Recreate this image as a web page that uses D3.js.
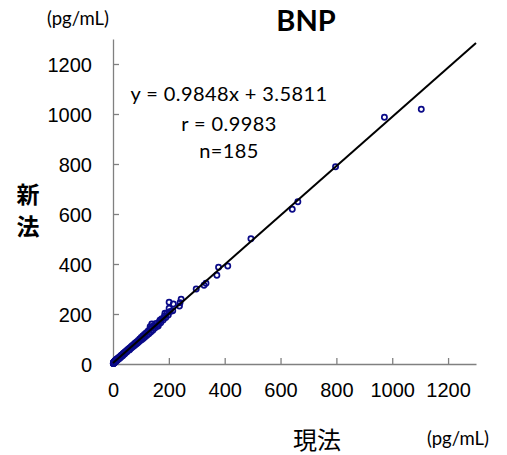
<!DOCTYPE html>
<html>
<head>
<meta charset="utf-8">
<script src="https://cdn.jsdelivr.net/npm/d3@7"></script>
<style>
  body { margin: 0; background: #fff; }
  svg { display: block; }
</style>
</head>
<body>
<script>
// chart values
const title = "BNP";
const xLabel = "現法", yLabel = ["新", "法"], unit = "(pg/mL)";
const ticks = [0, 200, 400, 600, 800, 1000, 1200];
const slope = 0.9848, intercept = 3.5811;
const statLines = ["y = 0.9848x + 3.5811", "r = 0.9983", "n=185"];

// 現法 (x) / 新法 (y)
const xValues = [
  1104, 972, 797, 662, 642, 494, 411, 378, 372, 333, 326, 298, 244, 240, 238, 216, 201, 214, 201, 198, 186, 169, 162, 139, 133,
  1.2, 1.5, 1.8, 2.0, 2.2, 2.5, 2.7, 3.0, 3.1, 3.4, 3.6, 3.9, 4.1, 4.3, 4.6, 4.8, 5.0, 5.3, 5.5, 5.8,
  6.0, 6.2, 6.5, 6.8, 7.0, 7.3, 7.6, 7.9, 8.1, 8.4, 8.7, 9.0, 9.2, 9.5, 9.8, 10.1, 10.4, 10.7, 11.0, 11.3,
  11.7, 12.0, 12.4, 12.9, 13.3, 13.8, 14.2, 14.7, 15.1, 15.6, 16.0, 16.5, 17.1, 17.6, 18.2, 18.8, 19.3, 19.9, 20.5, 21.2,
  21.8, 22.5, 23.1, 23.9, 24.6, 25.4, 26.1, 26.9, 27.8, 28.6, 29.5, 30.3, 31.2, 32.2, 33.1, 34.1, 35.2, 36.2, 37.3, 38.5,
  39.6, 40.8, 42.0, 43.3, 44.6, 45.9, 47.3, 48.7, 50.1, 51.6,
  53.1, 54.7, 56.3, 57.9, 59.6, 61.3, 63.1, 64.9, 66.8, 68.7, 70.6, 72.6, 74.7, 76.8, 78.9, 81.1, 83.4, 85.7, 88.1, 90.5,
  93.0, 95.6, 98.2, 100.9, 103.7, 106.5, 109.4, 112.4, 115.5, 118.6, 121.8, 125.1, 128.5, 131.9, 135.4, 139.0, 142.7, 146.5, 150.3, 154.2,
  158.2, 162.3, 166.5, 170.8, 175.2, 179.7, 184.3, 189.0, 193.8, 205.4,
  1.0, 1.3, 1.6, 2.3, 2.9, 3.3, 4.4, 5.1, 6.7, 7.8, 9.4, 12.6, 15.8, 19.6, 24.3, 29.1, 34.8, 41.5, 49.4, 58.8
];
const yValues = [
  1019, 987, 789, 649, 619, 501, 392, 387, 355, 323, 315, 300, 259, 245, 232, 240, 247, 213, 223, 196, 203, 176, 152, 160, 149,
  3.1, 4.4, 2.9, 5.2, 4.0, 3.6, 6.1, 4.9, 7.2, 5.5, 6.3, 8.0, 5.8, 7.4, 9.1, 6.6, 8.7, 7.9, 10.2, 8.4,
  9.6, 11.3, 8.9, 10.7, 12.4, 9.8, 11.6, 13.0, 10.5, 12.1, 14.2, 11.8, 13.5, 15.0, 12.6, 14.1, 16.3, 13.2, 15.4, 12.9,
  16.8, 14.7, 15.9, 17.6, 15.2, 18.4, 16.9, 19.5, 17.3, 20.2, 18.8, 21.6, 19.4, 22.3, 20.1, 23.5, 21.7, 24.6, 22.8, 25.3,
  23.6, 27.1, 24.9, 28.4, 26.3, 29.7, 27.8, 31.2, 29.6, 33.0, 30.8, 35.1, 32.9, 36.4, 34.5, 38.7, 36.6, 41.0, 38.9, 43.2,
  41.4, 45.3, 43.1, 48.2, 45.9, 50.6, 47.8, 53.4, 51.2, 56.3,
  53.9, 59.1, 57.2, 62.5, 59.8, 65.7, 62.4, 69.3, 65.1, 72.8, 68.9, 76.5, 72.3, 80.9, 75.6, 85.2, 79.8, 89.6, 84.3, 94.7,
  89.1, 99.8, 93.6, 106.1, 98.4, 111.9, 103.5, 118.2, 108.9, 124.7, 114.6, 131.5, 121.3, 139.0, 127.8, 146.2, 135.1, 153.9, 143.6, 161.8,
  151.4, 158.7, 171.2, 165.0, 181.6, 176.3, 191.8, 186.2, 203.9, 210.5,
  1.8, 2.4, 1.9, 2.6, 3.3, 3.8, 4.6, 5.4, 6.9, 8.1, 9.9, 12.3, 15.6, 18.9, 23.4, 28.0, 33.2, 39.8, 47.9, 56.4
];

const width = 507, height = 455;
const svg = d3.select("body").append("svg")
  .attr("width", width)
  .attr("height", height);

const x = d3.scaleLinear().domain([0, 1300]).range([113, 476]);
const y = d3.scaleLinear().domain([0, 1300]).range([364, 39]);

const axisColor = "#808080";
const tickFont = "'Liberation Sans', Arial, sans-serif";
const textFont = "Lato, 'Open Sans', sans-serif";
const cjkFont = "'Noto Sans CJK JP', sans-serif";

// axes
const xAxis = svg.append("g")
  .attr("transform", `translate(0,${y(0)})`)
  .call(d3.axisBottom(x).tickValues(ticks).tickFormat(d3.format("d"))
    .tickSizeInner(-6).tickSizeOuter(0).tickPadding(19));
const yAxis = svg.append("g")
  .attr("transform", `translate(${x(0)},0)`)
  .call(d3.axisLeft(y).tickValues(ticks).tickFormat(d3.format("d"))
    .tickSizeInner(-6).tickSizeOuter(0).tickPadding(21));

[xAxis, yAxis].forEach(g => {
  g.select(".domain").attr("stroke", axisColor).attr("stroke-width", 1.3);
  g.selectAll(".tick line").attr("stroke", axisColor).attr("stroke-width", 1.3);
  g.selectAll(".tick text")
    .attr("fill", "#000")
    .style("font-family", tickFont)
    .style("font-size", "20px");
});
yAxis.selectAll(".tick text").attr("dy", "0.36em");

// points
svg.append("g").selectAll("circle")
  .data(xValues.map((v, i) => [v, yValues[i]]))
  .join("circle")
  .attr("cx", d => x(d[0]))
  .attr("cy", d => y(d[1]))
  .attr("r", 2.6)
  .attr("fill", "none")
  .attr("stroke", "#0a0a88")
  .attr("stroke-width", 1.7);

// regression line
svg.append("line")
  .attr("x1", x(0)).attr("y1", y(intercept))
  .attr("x2", x(1300)).attr("y2", y(slope * 1300 + intercept))
  .attr("stroke", "#000")
  .attr("stroke-width", 2);

// stats text
svg.append("g").selectAll("text")
  .data(statLines)
  .join("text")
  .attr("x", 229)
  .attr("y", (d, i) => [101, 131, 158][i])
  .attr("text-anchor", "middle")
  .style("font-family", textFont)
  .style("font-size", "20px")
  .style("letter-spacing", "0.4px")
  .text(d => d);

// title
svg.append("text")
  .attr("x", 306).attr("y", 31)
  .attr("text-anchor", "middle")
  .style("font-family", textFont)
  .style("font-weight", "bold")
  .style("font-size", "29px")
  .text(title);

// units
svg.append("text")
  .attr("x", 78).attr("y", 25)
  .attr("text-anchor", "middle")
  .style("font-family", textFont)
  .style("font-size", "18.5px")
  .text(unit);
svg.append("text")
  .attr("x", 458).attr("y", 445)
  .attr("text-anchor", "middle")
  .style("font-family", textFont)
  .style("font-size", "18.5px")
  .text(unit);

// axis titles
svg.append("text")
  .attr("x", 317).attr("y", 449)
  .attr("text-anchor", "middle")
  .style("font-family", cjkFont)
  .style("font-size", "24px")
  .text(xLabel);
svg.append("g").selectAll("text")
  .data(yLabel)
  .join("text")
  .attr("x", 28)
  .attr("y", (d, i) => 203 + i * 32)
  .attr("text-anchor", "middle")
  .style("font-family", cjkFont)
  .style("font-size", "23px")
  .style("font-weight", "bold")
  .text(d => d);
</script>
</body>
</html>
